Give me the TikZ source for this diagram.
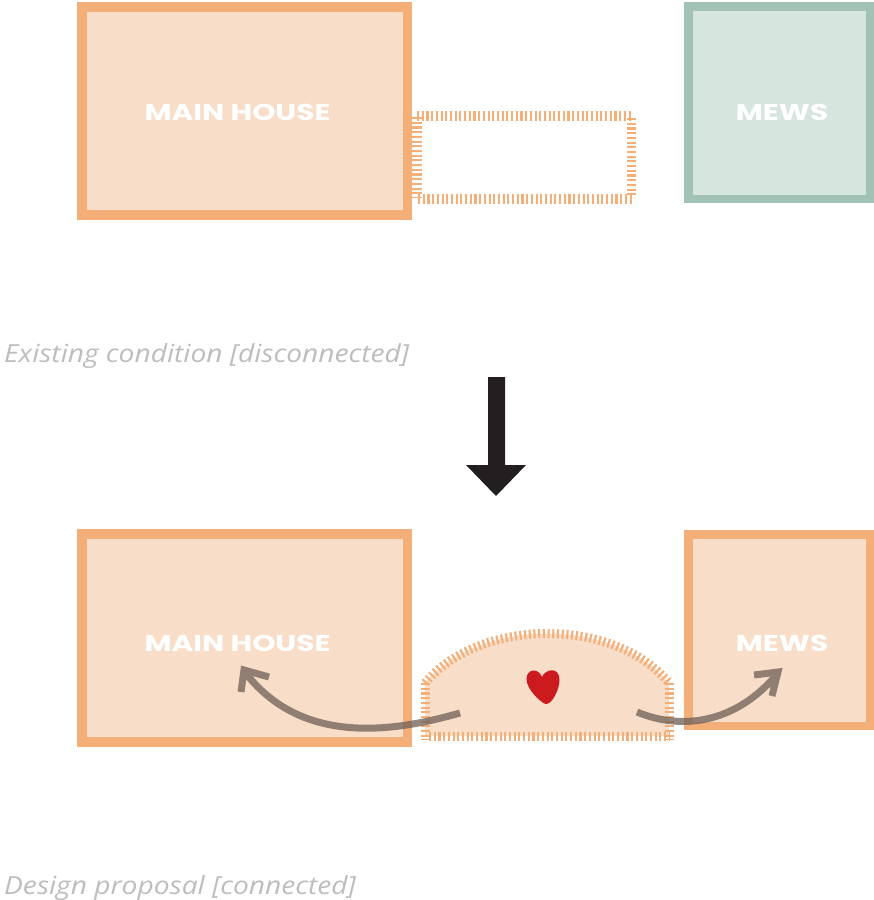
\documentclass[tikz,border=0pt]{standalone}
\usepackage{fontspec}
\newfontfamily\boxfont{Poppins}[FakeStretch=1.29]
\newfontfamily\capfont{Open Sans}[FakeStretch=1.13]
\usetikzlibrary{calc}
\definecolor{orl}{HTML}{F4AE78}
\definecolor{orf}{HTML}{F8DDC8}
\definecolor{grl}{HTML}{A2C2B5}
\definecolor{grf}{HTML}{D7E5DF}
\definecolor{blk}{HTML}{231F20}
\definecolor{arr}{HTML}{6E5F56}
\definecolor{hrt}{HTML}{CC1B1F}
\definecolor{capc}{HTML}{BDBDBD}
\tikzset{
 orbox/.style={draw=orl,fill=orf,line width=9.5bp,miter limit=10},
 orsmall/.style={draw=orl,fill=orf,line width=8.5bp,miter limit=10},
 grbox/.style={draw=grl,fill=grf,line width=8.5bp},
 hatch/.style={draw=orl,line width=9.5bp,dash pattern=on 2.1bp off 2.6bp},
 hatchb/.style={draw=orl,line width=9bp,dash pattern=on 2.1bp off 2.6bp},
 boxlabel/.style={text=white,font=\boxfont\bfseries\fontsize{23}{23}\selectfont,inner sep=0},
 caption/.style={text=capc,font=\capfont\itshape\fontsize{25}{25}\selectfont,inner sep=0,anchor=base west},
 flow/.style={draw=arr,draw opacity=.75,line width=7bp,miter limit=10}
}
\begin{document}
\begin{tikzpicture}[x=1bp,y=-1bp]
\useasboundingbox (0,0) rectangle (874,900);
% top row
\draw[orbox] (82,7) rectangle (407.5,215);
\draw[grbox] (688.25,6.25) rectangle (869.75,198.75);
\node[boxlabel] (mh1) at (237.5,112) {MAIN HOUSE};
\node[boxlabel] (mw1) at (782,112) {MEWS};
\draw[hatch] (417,116) -- (632,116);
\draw[hatch] (418,199) -- (632,199);
\draw[hatch] (417,117) -- (417,197);
\draw[hatch] (631.5,118) -- (631.5,196);
\node[caption] (c1) at (4,362) {Existing condition [disconnected]};
% big arrow
\fill[blk] (488,377) -- (505,377) -- (505,465) -- (526,465) -- (496,496) -- (466,465) -- (488,465) -- cycle;
% bottom row
\draw[orbox] (82,534) rectangle (407.5,742);
\draw[orsmall] (688.25,534.25) rectangle (869.75,726);
\node[boxlabel] (mh2) at (237.5,643) {MAIN HOUSE};
\node[boxlabel] (mw2) at (782,643) {MEWS};
\fill[orf] (425,683) .. controls (480,617) and (615,617) .. (669,683) -- (669,736) -- (425,736) -- cycle;
\draw[hatchb] (425,683) .. controls (480,617) and (615,617) .. (669,683);
\draw[hatchb] (425,683) -- (425,740);
\draw[hatchb] (669.5,683) -- (669.5,740);
\draw[hatchb] (429,736) -- (670,736);
% heart
\fill[hrt] (545.5,704) .. controls (540,702) and (526.5,689) .. (526.5,679)
 .. controls (526.5,669) and (538,667) .. (542,677)
 .. controls (545,669) and (559.5,666) .. (559.5,680)
 .. controls (559.5,689) and (552,705) .. (545.5,704) -- cycle;
% flow arrows
\coordinate (a1) at (460,713);
\coordinate (a2) at (244,671);
\coordinate (b1) at (637,712);
\coordinate (b2) at (778,673);
\draw[flow] (a1) .. controls (390,733) and (300,745) .. (a2)
 (269,677) -- (244,670) -- (241,692)
 (b1) .. controls (680,730) and (735,725) .. (b2)
 (754,675) -- (778,672) -- (772,696);
\node[caption] (c2) at (4,894) {Design proposal [connected]};
\end{tikzpicture}
\end{document}
